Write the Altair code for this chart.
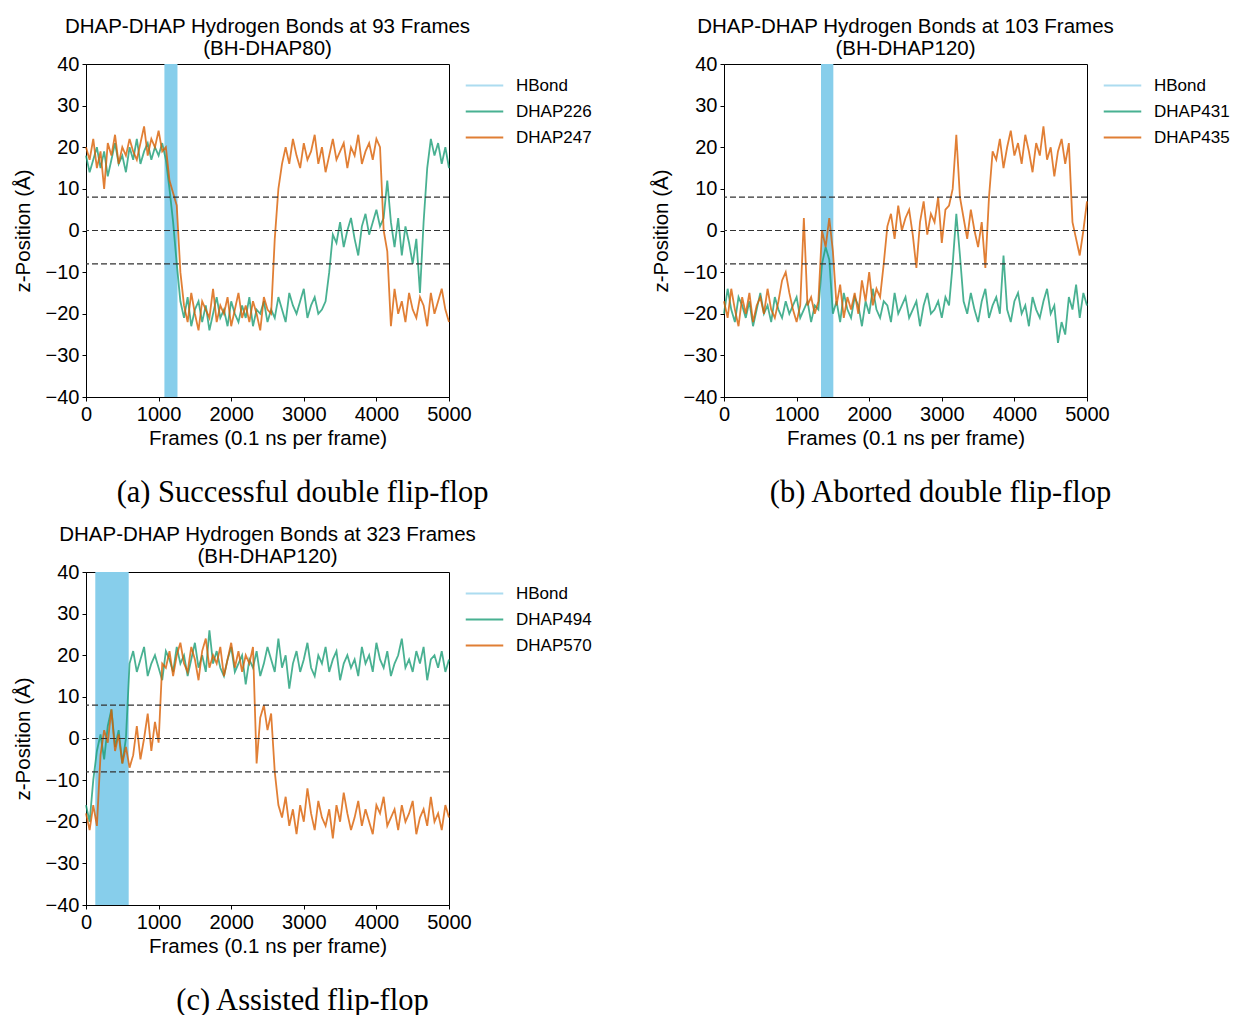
import altair as alt
import pandas as pd

FRAMES = list(range(0, 5001, 50))

# ---------------- panel (a) ----------------
A_TITLE = ["DHAP-DHAP Hydrogen Bonds at 93 Frames", "(BH-DHAP80)"]
A_NAMES = ["DHAP226", "DHAP247"]
A_CAPTION = "(a) Successful double flip-flop"
A_HB_START = [1080]
A_HB_END = [1260]
A_GREEN = [18, 14, 17, 20, 15, 19, 13, 17, 21, 16, 18, 14, 20, 17, 22, 16, 19, 21, 17, 20, 18, 21,
           17, 10, 2, -8, -17,
           -21, -16, -23, -19, -17, -22, -18, -24, -20, -16, -21, -19, -23, -17, -20, -22, -18, -21, -16, -23, -19, -20, -17, -22, -19,
           -21, -16, -19, -22, -15, -18, -20, -17, -14, -21, -18, -16, -20, -19, -17,
           -10, -1,
           -3, 2, -4, 0, 3, -2, -6, 1, 4, -1, 2, 5, 1, 3,
           12, 2, -4, 3, -6, 1, -3, -8, -2, -15,
           2, 15, 22,
           18, 21, 16, 20, 15]
A_ORANGE = [20, 17, 22, 15, 19, 10, 21, 18, 23, 16, 20, 18, 22, 19, 17, 21, 25, 18, 22, 20, 24, 19,
            20, 12, 9, 6, -10,
            -18, -22, -15, -20, -24, -17, -19, -21, -14, -22, -18, -20, -16, -23, -19, -15, -21, -18, -22, -17, -20, -24, -16, -19,
            -20, -2, 10, 16,
            20, 16, 22, 18, 15, 21, 17, 19, 23, 16, 20, 14, 18, 22, 17, 19, 21, 15, 20, 18, 23, 16, 19, 21, 17, 22, 20,
            0, -5, -23,
            -14, -20, -17, -22, -15, -19, -21, -16, -18, -23, -15, -20, -17, -14, -19, -22]

# ---------------- panel (b) ----------------
B_TITLE = ["DHAP-DHAP Hydrogen Bonds at 103 Frames", "(BH-DHAP120)"]
B_NAMES = ["DHAP431", "DHAP435"]
B_CAPTION = "(b) Aborted double flip-flop"
B_HB_START = [1336]
B_HB_END = [1506]
B_GREEN = [-20, -14, -19, -22, -16, -18, -21, -17, -23, -19, -15, -20, -18, -22, -16, -19, -21, -17, -20, -18, -16, -21, -19, -17, -22, -18, -19,
           -8, -4, -7, -20,
           -17, -22, -15, -19, -21, -16, -18, -23, -17, -20, -14, -19, -21, -17, -18, -22, -15, -20, -18, -16, -21, -19, -17, -23, -18, -15, -20, -19, -17, -21, -16, -18,
           -8, 4, -6, -17,
           -20, -15, -19, -22, -17, -14, -21, -18, -16, -20, -6, -19, -22, -17, -15, -20, -18, -23, -16, -19, -21, -17, -14, -20, -18, -27, -22, -25, -16, -19, -13, -21, -15, -18]
B_ORANGE = [-17, -21, -14, -19, -23, -16, -20, -15, -22, -18, -16, -20, -14, -19, -21, -17, -12, -10, -15, -19, -22, -18,
            3, -18, -16, -20, -17,
            0, -4, 3, -5,
            -18, -13, -21, -16, -19, -15, -20, -12, -17, -10, -18, -14, -16,
            -8, 1,
            4, -2, 6, 0, 3, 5, -1, -9, 2, 7, -1, 4, 2, 8, -3, 5, 6,
            10, 23, 8,
            3, -2, 5, 0, -4, 2, -9,
            8, 19,
            17, 22, 15, 20, 24, 18, 21, 16, 23, 19, 14, 21, 18, 25, 17, 20, 13, 19, 22, 16, 21,
            2, -2, -6, 0, 7]

# ---------------- panel (c) ----------------
C_TITLE = ["DHAP-DHAP Hydrogen Bonds at 323 Frames", "(BH-DHAP120)"]
C_NAMES = ["DHAP494", "DHAP570"]
C_CAPTION = "(c) Assisted flip-flop"
C_HB_START = [128]
C_HB_END = [588]
C_GREEN = [-16, -20, -10,
           -3, 1, -5, 3, 7, -2, 2, -6, 0,
           18,
           21, 16, 19, 22, 15, 18, 20, 17, 14, 21,
           19, 16, 22, 18, 20, 15, 19, 23, 17, 20,
           16, 26, 18, 21, 17, 15, 19, 22, 16, 18,
           20, 13, 19, 17, 21, 15, 18, 22, 19, 16,
           24, 17, 20, 12, 18, 21, 16, 19, 23, 17,
           15, 20, 18, 22, 16, 19, 21, 14, 18, 20,
           17, 19, 15, 22, 18, 20, 16, 23, 19, 17,
           21, 15, 18, 20, 24, 17, 19, 16, 21, 18,
           22, 14, 19, 20, 17, 21, 16, 19]
C_ORANGE = [-18, -22, -16, -21,
            -4, 2, -1, 7, -3, 1, -6, -2,
            -7, -4, 3, -5, 0, 6, -3, 4, -1,
            18,
            17, 21, 15, 20, 23, 18, 16, 22, 19, 14, 21, 24, 17, 20, 18, 22, 15, 19, 23, 17, 21, 16, 20, 18, 22,
            -6,
            5, 8, 2, 6,
            -8, -16,
            -19, -14, -21, -17, -23, -16, -20, -12, -18, -22,
            -15, -19, -21, -17, -24, -16, -20, -13, -18, -22,
            -19, -15, -21, -17, -20, -23, -16, -18, -14, -21,
            -19, -17, -22, -16, -20, -18, -15, -23, -19, -17,
            -21, -14, -20, -18, -22, -16, -19]

THRESHOLDS = [8, 0, -8]
X_TICKS = [0, 1000, 2000, 3000, 4000, 5000]
Y_TICKS = [-40, -30, -20, -10, 0, 10, 20, 30, 40]

GREEN = "#1b9e77"
ORANGE = "#d95f02"
HB_LEGEND = "#98d4ed"
HB_FILL = "#87ceeb"

W, H = 363, 333
SANS = "Liberation Sans"
SERIF = "Liberation Serif"


def panel(title, names, green, orange, hb_start, hb_end):
    domain = ["HBond", names[0], names[1]]
    color_scale = alt.Scale(domain=domain, range=[HB_LEGEND, GREEN, ORANGE])
    legend = alt.Legend(
        orient="none", legendX=W + 27, legendY=13, title=None,
        symbolType="M-3.75,0H3.75", symbolSize=100, symbolStrokeWidth=2,
        labelFont=SANS, labelFontSize=17, labelColor="black",
        labelOffset=23, rowPadding=8, padding=0,
    )
    xs = alt.Scale(domain=[0, 5000], nice=False, zero=False)
    ys = alt.Scale(domain=[-40, 40], nice=False)
    xax = alt.Axis(values=X_TICKS, title="Frames (0.1 ns per frame)", format="d",
                   labelFlush=False, labelOverlap=False)
    yax = alt.Axis(values=Y_TICKS, title="z-Position (Å)", format="d",
                   labelFlush=False, labelOverlap=False, titlePadding=12)

    hb = pd.DataFrame({"start": hb_start, "end": hb_end})
    g = pd.DataFrame({"frame": FRAMES, "z": green, "series": names[0]})
    o = pd.DataFrame({"frame": FRAMES, "z": orange, "series": names[1]})
    th = pd.DataFrame({"y": THRESHOLDS})

    band = alt.Chart(hb).mark_rect(color=HB_FILL, opacity=1).encode(
        x=alt.X("start:Q", scale=xs, axis=xax),
        x2="end:Q",
        y=alt.value(0),
        y2=alt.value(H),
    )

    def line(df):
        return alt.Chart(df).mark_line(strokeWidth=1.8, opacity=0.8).encode(
            x=alt.X("frame:Q", scale=xs, axis=xax),
            y=alt.Y("z:Q", scale=ys, axis=yax),
            color=alt.Color("series:N", scale=color_scale, legend=legend),
        )

    rules = alt.Chart(th).mark_rule(color="#333333", strokeDash=[6, 3], strokeWidth=1.2).encode(
        y=alt.Y("y:Q", scale=ys, axis=yax)
    )

    return alt.layer(band, line(g), line(o), rules).properties(
        width=W, height=H,
        title=alt.TitleParams(text=title, font=SANS, fontSize=20.5, fontWeight="normal",
                              anchor="middle", frame="group", offset=-5, lineHeight=22,
                              color="black"),
    )


def wrap(p, caption):
    return alt.vconcat(p, title=alt.TitleParams(
        text=caption, orient="bottom", anchor="middle", font=SERIF, fontSize=30.5,
        fontWeight="normal", color="black", offset=29)).resolve_scale(color="independent")


pa = wrap(panel(A_TITLE, A_NAMES, A_GREEN, A_ORANGE, A_HB_START, A_HB_END), A_CAPTION)
pb = wrap(panel(B_TITLE, B_NAMES, B_GREEN, B_ORANGE, B_HB_START, B_HB_END), B_CAPTION)
pc = wrap(panel(C_TITLE, C_NAMES, C_GREEN, C_ORANGE, C_HB_START, C_HB_END), C_CAPTION)

row1 = alt.hconcat(pa, pb, spacing=57).resolve_scale(color="independent")
chart = alt.vconcat(row1, pc, spacing=15).resolve_scale(color="independent").properties(
    padding={"left": 12, "top": 16, "right": 0, "bottom": 0}
).configure_axis(
    labelFont=SANS, labelFontSize=20, labelColor="black",
    titleFont=SANS, titleFontSize=20.5, titleFontWeight="normal", titleColor="black",
    domainColor="black", tickColor="black", tickSize=4, labelPadding=3,
    grid=False,
).configure_view(stroke="black", strokeWidth=1).configure_concat(spacing=15)

chart.save("out.html", embed_options={"renderer": "svg", "actions": False})
